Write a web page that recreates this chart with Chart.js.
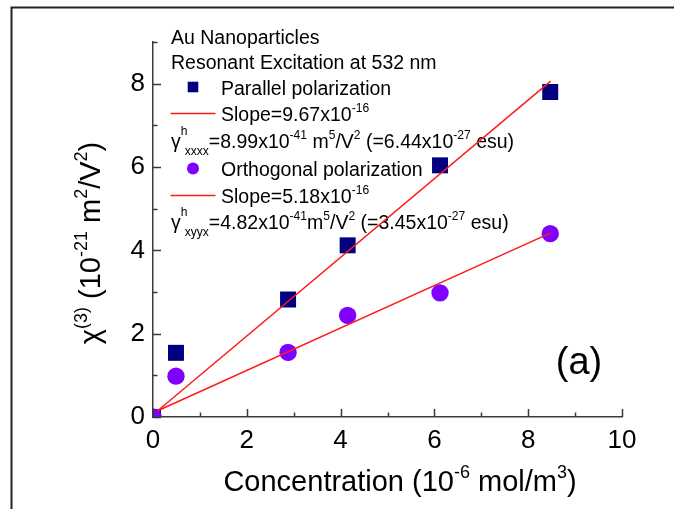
<!DOCTYPE html>
<html><head><meta charset="utf-8">
<script src="https://cdn.jsdelivr.net/npm/chart.js@4.4.0/dist/chart.umd.min.js"></script>
<style>html,body{margin:0;padding:0;background:#fff;overflow:hidden}canvas{display:block}</style>
</head><body>
<canvas id="c" width="674" height="509"></canvas>
<script>
// ---- data ----
const concentration   = [0, 0.49, 2.88, 4.15, 6.12, 8.47];
const parallelChi     = [0, 1.54, 2.82, 4.12, 6.04, 7.80];
const orthogonalChi   = [0, 0.98, 1.55, 2.44, 2.98, 4.40];
const fitConcentration = [0.1, 8.48];
const parallelFit     = [0.15, 8.06];
const orthogonalFit   = [0.15, 4.42];
const xTickValues = [0, 2, 4, 6, 8, 10];
const yTickValues = [0, 2, 4, 6, 8];
const xMinorTicks = [1, 3, 5, 7, 9];
const yMinorTicks = [1, 3, 5, 7, 9];
const seriesNames = ['Parallel polarization', 'Orthogonal polarization'];
const noteLines = ['Au Nanoparticles', 'Resonant Excitation at 532 nm'];
const slopeLines = [
  [['Slope=9.67x10', 0], ['-16', 1]],
  [['Slope=5.18x10', 0], ['-16', 1]]
];
const gammaLines = [
  [['\u03B3', 0], [['h', 'xxxx'], 2], ['=8.99x10', 0], ['-41', 1], [' m', 0], ['5', 1], ['/V', 0], ['2', 1], [' (=6.44x10', 0], ['-27', 1], [' esu)', 0]],
  [['\u03B3', 0], [['h', 'xyyx'], 2], ['=4.82x10', 0], ['-41', 1], ['m', 0], ['5', 1], ['/V', 0], ['2', 1], [' (=3.45x10', 0], ['-27', 1], [' esu)', 0]]
];
const xTitle = [['Concentration (10', 0], ['-6', 1], [' mol/m', 0], ['3', 1], [')', 0]];
const yTitle = [['\u03C7', 0], ['(3)', 1], [' (10', 0], ['-21', 1], [' m', 0], ['2', 1], ['/V', 0], ['2', 1], [')', 0]];
const panelLabel = '(a)';

const FONT = '"Liberation Sans", Arial, Helvetica, sans-serif';
const NAVY = '#000080', PURPLE = '#8000ff', RED = '#ff1a1a', AXIS = '#3a3a3a';

function f(size){ return size + 'px ' + FONT; }
function richWidth(ctx, segs, size){
  let w = 0;
  for (const [t, m] of segs){
    if (m === 0){ ctx.font = f(size); w += ctx.measureText(t).width; }
    else if (m === 1){ ctx.font = f(size*0.62); w += ctx.measureText(t).width; }
    else { ctx.font = f(size*0.62); w += Math.max(ctx.measureText(t[0]).width, ctx.measureText(t[1]).width + size*0.2); }
  }
  return w;
}
function drawRich(ctx, segs, x, y, size, align){
  let cx = x;
  if (align === 'center') cx = x - richWidth(ctx, segs, size)/2;
  ctx.textBaseline = 'alphabetic'; ctx.textAlign = 'left'; ctx.fillStyle = '#000';
  for (const [t, m] of segs){
    if (m === 0){ ctx.font = f(size); ctx.fillText(t, cx, y); cx += ctx.measureText(t).width; }
    else if (m === 1){ ctx.font = f(size*0.62); ctx.fillText(t, cx, y - size*0.45); cx += ctx.measureText(t).width; }
    else {
      ctx.font = f(size*0.62);
      ctx.fillText(t[0], cx, y - size*0.67);
      ctx.fillText(t[1], cx + size*0.2, y + size*0.36);
      cx += Math.max(ctx.measureText(t[0]).width, ctx.measureText(t[1]).width + size*0.2);
    }
  }
}

const decor = {
  id: 'decor',
  beforeDraw(chart){
    const ctx = chart.ctx;
    ctx.save();
    ctx.fillStyle = '#fff'; ctx.fillRect(0, 0, chart.width, chart.height);
    ctx.strokeStyle = '#222'; ctx.lineWidth = 2;
    ctx.beginPath(); ctx.moveTo(11.5, chart.height + 5); ctx.lineTo(11.5, 7.5); ctx.lineTo(chart.width + 5, 7.5); ctx.stroke();
    ctx.restore();
  },
  beforeDatasetsDraw(chart){
    const ctx = chart.ctx;
    ctx.save();
    const L = 171, TX = 221, S = 19.5;
    ctx.font = f(S); ctx.fillStyle = '#000'; ctx.textBaseline = 'alphabetic'; ctx.textAlign = 'left';
    ctx.fillText(noteLines[0], L, 44);
    ctx.fillText(noteLines[1], L, 69);
    // parallel
    ctx.fillStyle = NAVY; ctx.fillRect(193 - 5.3, 87 - 5.3, 10.6, 10.6);
    ctx.fillStyle = '#000'; ctx.font = f(S); ctx.fillText(seriesNames[0], TX, 94.5);
    ctx.strokeStyle = RED; ctx.lineWidth = 1.5;
    ctx.beginPath(); ctx.moveTo(170.5, 113.5); ctx.lineTo(215.5, 113.5); ctx.stroke();
    drawRich(ctx, slopeLines[0], TX, 121, S);
    drawRich(ctx, gammaLines[0], L, 148, S);
    // orthogonal
    ctx.fillStyle = PURPLE; ctx.beginPath(); ctx.arc(193, 168.5, 6, 0, Math.PI*2); ctx.fill();
    ctx.fillStyle = '#000'; ctx.font = f(S); ctx.fillText(seriesNames[1], TX, 175.5);
    ctx.strokeStyle = RED; ctx.lineWidth = 1.5;
    ctx.beginPath(); ctx.moveTo(170.5, 195.5); ctx.lineTo(215.5, 195.5); ctx.stroke();
    drawRich(ctx, slopeLines[1], TX, 202.5, S);
    drawRich(ctx, gammaLines[1], L, 229, S);
    ctx.restore();
  },
  afterDraw(chart){
    const ctx = chart.ctx, xs = chart.scales.x, ys = chart.scales.y, a = chart.chartArea;
    ctx.save();
    ctx.strokeStyle = AXIS; ctx.lineWidth = 1.5;
    ctx.beginPath();
    for (const v of xTickValues){ const p = Math.round(xs.getPixelForValue(v)) + 0.5; ctx.moveTo(p, a.bottom); ctx.lineTo(p, a.bottom - 8); }
    for (const v of xMinorTicks){ const p = Math.round(xs.getPixelForValue(v)) + 0.5; ctx.moveTo(p, a.bottom); ctx.lineTo(p, a.bottom - 4.5); }
    for (const v of yTickValues){ const p = Math.round(ys.getPixelForValue(v)) + 0.5; ctx.moveTo(a.left, p); ctx.lineTo(a.left + 8, p); }
    for (const v of yMinorTicks){ const p = Math.round(ys.getPixelForValue(v)) + 0.5; ctx.moveTo(a.left, p); ctx.lineTo(a.left + 4.5, p); }
    ctx.stroke();
    // axis titles
    drawRich(ctx, xTitle, 400, 491, 29, 'center');
    ctx.save(); ctx.translate(100, 243); ctx.rotate(-Math.PI/2);
    drawRich(ctx, yTitle, 0, 0, 29, 'center');
    ctx.restore();
    // panel label
    ctx.font = f(38); ctx.fillStyle = '#000'; ctx.textAlign = 'center'; ctx.textBaseline = 'alphabetic';
    ctx.fillText(panelLabel, 579, 374);
    ctx.restore();
  }
};

const pts = (xs, ys) => xs.map((x, i) => ({x, y: ys[i]}));

new Chart(document.getElementById('c'), {
  type: 'scatter',
  data: {
    datasets: [
      { label: 'Parallel fit', data: pts(fitConcentration, parallelFit), showLine: true, borderColor: RED, borderWidth: 1.5, pointRadius: 0, clip: 0 },
      { label: 'Orthogonal fit', data: pts(fitConcentration, orthogonalFit), showLine: true, borderColor: RED, borderWidth: 1.5, pointRadius: 0, clip: 0 },
      { label: seriesNames[1], data: pts(concentration, orthogonalChi), pointStyle: 'circle', pointRadius: 8.7, pointHoverRadius: 8.7, backgroundColor: PURPLE, borderWidth: 0, pointBorderWidth: 0, clip: 0 },
      { label: seriesNames[0], data: pts(concentration, parallelChi), pointStyle: 'rect', pointRadius: 11.3, pointHoverRadius: 11.3, backgroundColor: NAVY, borderWidth: 0, pointBorderWidth: 0, clip: 0 }
    ]
  },
  options: {
    responsive: false, animation: false, devicePixelRatio: 1,
    events: [],
    layout: { padding: { left: 0, top: 42, right: 52, bottom: 0 } },
    plugins: { legend: { display: false }, tooltip: { enabled: false } },
    scales: {
      x: {
        type: 'linear', min: 0, max: 10,
        afterBuildTicks: s => { s.ticks = xTickValues.map(v => ({ value: v })); },
        afterFit: s => { s.height = 92; },
        grid: { display: false, drawTicks: false },
        border: { display: true, color: AXIS, width: 1.5 },
        ticks: { color: '#000', font: { family: FONT, size: 26 }, padding: 8, maxRotation: 0 },
        title: { display: false }
      },
      y: {
        type: 'linear', min: 0, max: 9,
        afterBuildTicks: s => { s.ticks = yTickValues.map(v => ({ value: v })); },
        afterFit: s => { s.width = 153; },
        grid: { display: false, drawTicks: false },
        border: { display: true, color: AXIS, width: 1.5 },
        ticks: { color: '#000', font: { family: FONT, size: 26 }, padding: 8 },
        title: { display: false }
      }
    }
  },
  plugins: [decor]
});
</script>
</body></html>
